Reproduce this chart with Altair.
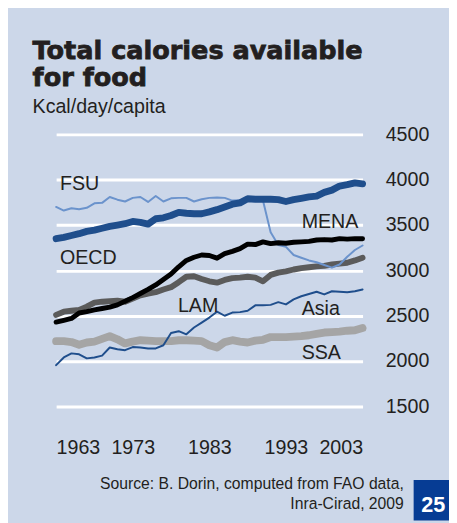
import altair as alt
import pandas as pd

years = list(range(1963, 2004))

oecd = [3350, 3365, 3385, 3405, 3430, 3445, 3465, 3485, 3500, 3515, 3540, 3530, 3510, 3570, 3580,
        3605, 3640, 3630, 3625, 3625, 3645, 3670, 3700, 3730, 3745, 3790, 3785, 3785, 3785, 3780,
        3760, 3780, 3795, 3810, 3820, 3860, 3885, 3930, 3945, 3965, 3955]
fsu = [3700, 3660, 3685, 3675, 3690, 3740, 3745, 3810, 3780, 3760, 3800, 3810, 3755, 3820, 3760,
       3795, 3800, 3800, 3760, 3785, 3800, 3805, 3800, 3770, 3775, 3780, 3775, 3770, 3420, 3280,
       3260, 3170, 3140, 3110, 3090, 3060, 3030, 3065, 3150, 3225, 3275]
mena = [2430, 2450, 2470, 2530, 2545, 2565, 2580, 2595, 2620, 2660, 2700, 2745, 2790, 2840, 2900,
        2960, 3040, 3110, 3145, 3170, 3165, 3135, 3185, 3210, 3240, 3290, 3285, 3315, 3295, 3305,
        3300, 3310, 3315, 3320, 3335, 3340, 3335, 3350, 3345, 3350, 3350]
lam = [2510, 2545, 2555, 2565, 2600, 2645, 2655, 2660, 2665, 2655, 2690, 2725, 2745, 2760, 2790,
       2815, 2870, 2930, 2935, 2905, 2880, 2865, 2895, 2915, 2920, 2930, 2920, 2880, 2950, 2975,
       2990, 3010, 3025, 3035, 3045, 3050, 3065, 3075, 3085, 3110, 3140]
asia = [1955, 2040, 2085, 2075, 2030, 2040, 2060, 2150, 2130, 2120, 2155, 2150, 2140, 2140, 2175,
        2310, 2330, 2295, 2370, 2425, 2480, 2545, 2500, 2535, 2540, 2555, 2615, 2615, 2620, 2650,
        2625, 2680, 2715, 2740, 2765, 2735, 2770, 2765, 2760, 2770, 2790]
ssa = [2220, 2220, 2210, 2180, 2205, 2215, 2245, 2275, 2240, 2195, 2215, 2230, 2225, 2220, 2220,
       2220, 2230, 2230, 2225, 2220, 2175, 2150, 2210, 2230, 2215, 2205, 2225, 2235, 2265, 2265,
       2265, 2270, 2275, 2285, 2300, 2315, 2320, 2325, 2335, 2340, 2365]

series = [("SSA", ssa), ("Asia", asia), ("LAM", lam), ("FSU", fsu), ("MENA", mena), ("OECD", oecd)]
colors = {"SSA": "#a5a5a5", "Asia": "#1f4e8c", "LAM": "#5b5b5b", "FSU": "#6b93cc",
          "MENA": "#000000", "OECD": "#1f4e8c"}
widths = {"SSA": 8, "Asia": 2, "LAM": 6, "FSU": 2, "MENA": 5, "OECD": 7}

label_names = ["FSU", "OECD", "MENA", "LAM", "Asia", "SSA"]
label_years = [1963.5, 1963.5, 1995.05, 1978.9, 1995.05, 1995.05]
label_kcal = [3883, 3070, 3471, 2540, 2507, 2020]

x_ticks = [1963, 1973, 1983, 1993, 2003]
y_ticks = [1500, 2000, 2500, 3000, 3500, 4000, 4500]

title_lines = ["Total calories available", "for food"]
subtitle = "Kcal/day/capita"
source_lines = ["Source: B. Dorin, computed from FAO data,", "Inra-Cirad, 2009"]
page_no = "25"

FONT = "Liberation Sans"
TXT = "#231f20"

x_enc = alt.X("year:Q",
              scale=alt.Scale(domain=[1963, 2003], nice=False, zero=False),
              axis=alt.Axis(values=x_ticks, format="d", title=None, grid=False, domain=False,
                            ticks=False, tickSize=0, labelFontSize=20, labelFont=FONT,
                            labelColor=TXT, labelPadding=48, labelBaseline="alphabetic"))
y_enc = alt.Y("kcal:Q",
              scale=alt.Scale(domain=[1500, 4500], nice=False, zero=False),
              axis=alt.Axis(orient="right", values=y_ticks, format="d", title=None, grid=True,
                            gridColor="white", gridWidth=3, domain=False, ticks=False,
                            tickSize=0, labelFontSize=20, labelFont=FONT, labelColor=TXT,
                            labelPadding=23, labelAlign="left"))

layers = []
for name, vals in series:
    d = pd.DataFrame({"year": years, "kcal": vals})
    layers.append(
        alt.Chart(d).mark_line(color=colors[name], strokeWidth=widths[name],
                               strokeCap="round", strokeJoin="round")
        .encode(x=x_enc, y=y_enc)
    )

lab_df = pd.DataFrame({"year": label_years, "kcal": label_kcal, "name": label_names})
layers.append(
    alt.Chart(lab_df).mark_text(align="left", baseline="alphabetic", fontSize=20,
                                font=FONT, color=TXT)
    .encode(x=x_enc, y=y_enc, text="name:N")
)

one = pd.DataFrame({"a": [0]})


def txt(text, x, y, **kw):
    return alt.Chart(one).mark_text(text=text, **kw).encode(x=alt.value(x), y=alt.value(y))


layers.append(txt(title_lines[0], -24, -77, align="left", baseline="alphabetic",
                  font="DejaVu Sans", fontWeight="bold", fontSize=26, color=TXT,
                  stroke=TXT, strokeWidth=0.8))
layers.append(txt(title_lines[1], -24, -49, align="left", baseline="alphabetic",
                  font="DejaVu Sans", fontWeight="bold", fontSize=26, color=TXT,
                  stroke=TXT, strokeWidth=0.8))
layers.append(txt(subtitle, -24, -22, align="left", baseline="alphabetic",
                  font=FONT, fontSize=20, color=TXT))
layers.append(txt(source_lines[0], 354, 361, align="right", baseline="alphabetic",
                  font=FONT, fontSize=16, color=TXT))
layers.append(txt(source_lines[1], 354, 381, align="right", baseline="alphabetic",
                  font=FONT, fontSize=16, color=TXT))
layers.append(
    alt.Chart(one).mark_rect(color="#063c94")
    .encode(x=alt.value(364), x2=alt.value(402), y=alt.value(352), y2=alt.value(393))
)
layers.append(txt(page_no, 384, 384, align="center", baseline="alphabetic",
                  font=FONT, fontWeight="bold", fontSize=22, color="white"))

chart = alt.layer(*layers).properties(
    width=312, height=277,
    padding={"left": 49, "top": 124, "right": 88, "bottom": 114},
    autosize=alt.AutoSizeParams(type="none"),
    background="#ccd7e9",
).configure_view(stroke=None)

chart.save("out.html", embed_options={"renderer": "svg", "actions": False})
